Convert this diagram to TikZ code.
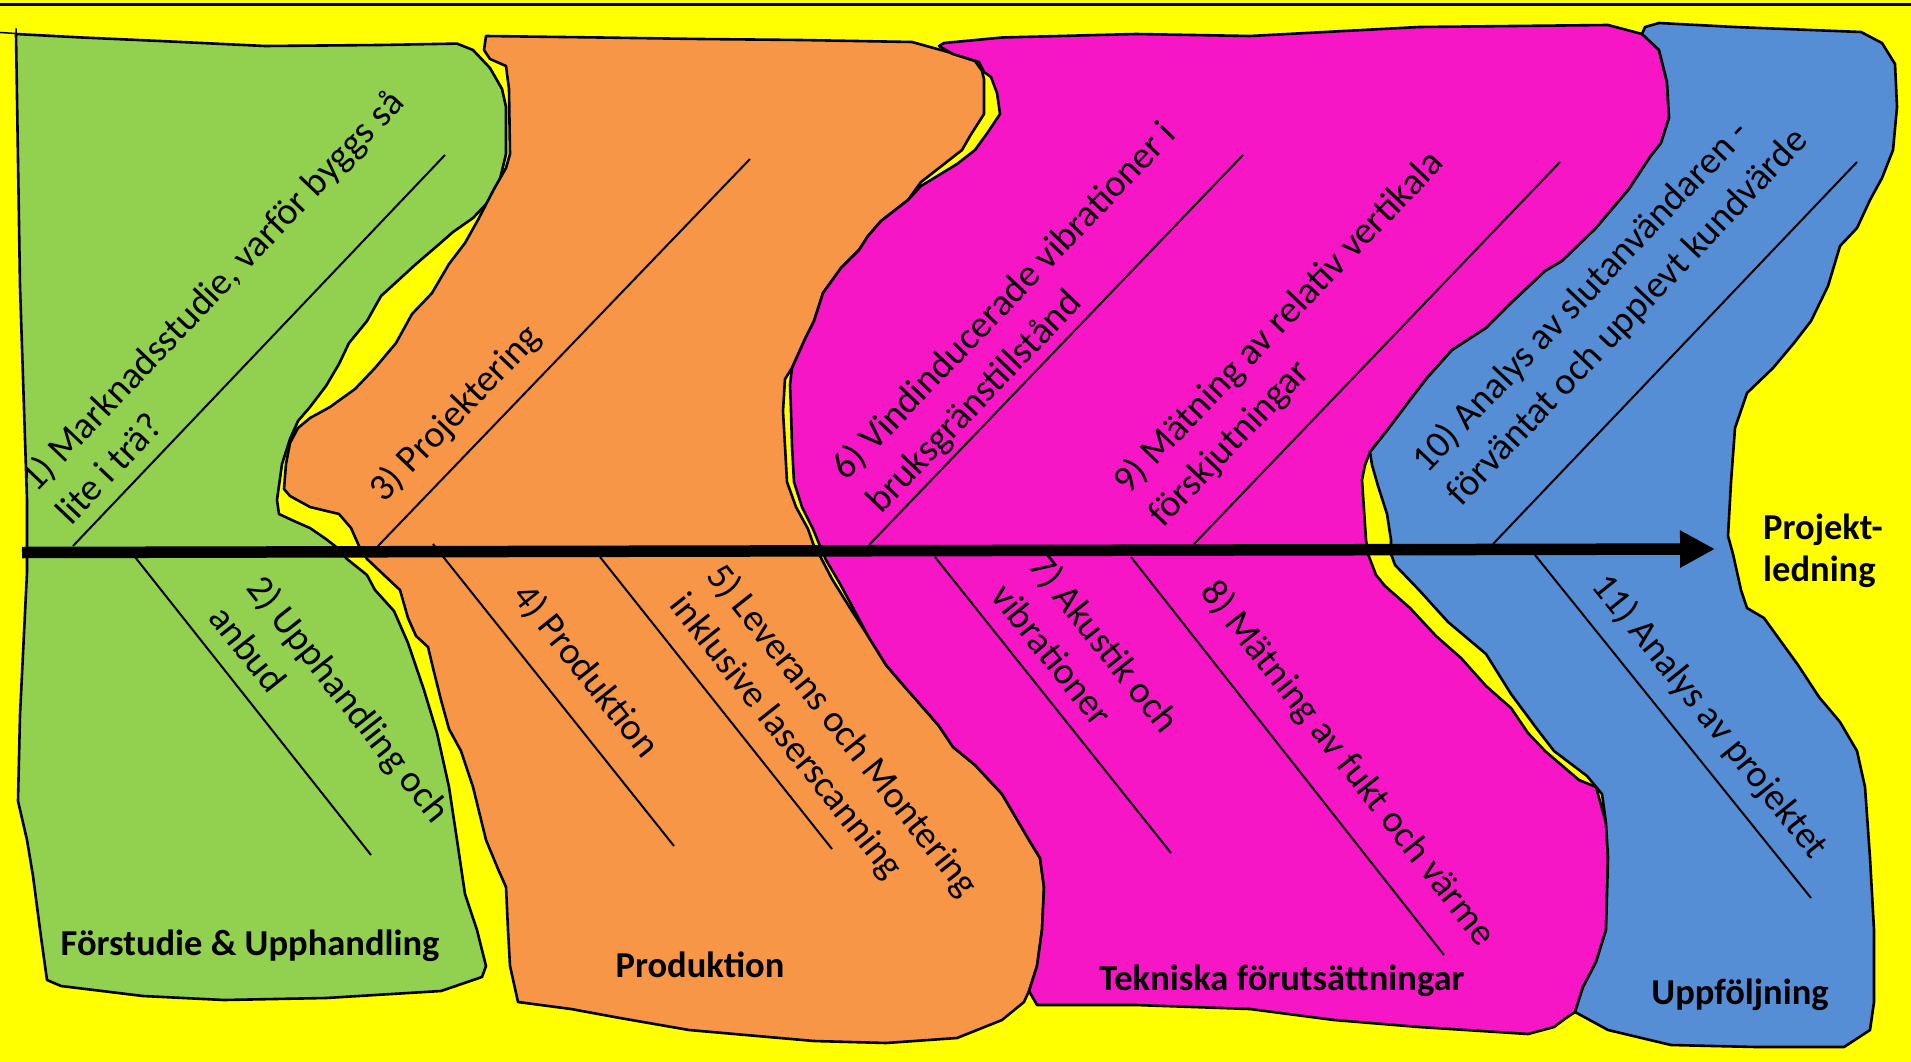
\documentclass[tikz,border=0pt]{standalone}
\usepackage{fontspec}
\setmainfont{Carlito}
\usetikzlibrary{arrows.meta}
\definecolor{bgyellow}{RGB}{255,255,0}
\definecolor{phasegreen}{RGB}{146,208,80}
\definecolor{phaseorange}{RGB}{247,150,70}
\definecolor{phasemagenta}{RGB}{247,22,197}
\definecolor{phaseblue}{RGB}{85,142,213}

\begin{document}
\begin{tikzpicture}[x=1pt, y=-1pt,
	phase/.style={draw=black, line width=2.6pt, line join=round},
	bone/.style={black, line width=2pt},
	steplabel/.style={sloped, anchor=south west, inner xsep=0pt, text depth=0pt, align=left, font=\fontsize{38}{48}\selectfont},
	phasename/.style={anchor=base, inner sep=0pt, font=\fontsize{36.5}{42}\selectfont\bfseries}]
	\useasboundingbox (0,0) rectangle (1911,1062);
	% background
	\fill[bgyellow] (0,0) rectangle (1911,1062);
	\draw[line width=3pt] (0,4.5) -- (1911,4.5);

	% phases
	\filldraw[phase, fill=phasegreen] (16,34) -- (82,37.5) -- (160,41) -- (265,46) -- (380,45) -- (457,43.6) -- (473,50) -- (490,68) -- (502,89) -- (506,107) -- (506,154) -- (500,179) -- (490,200) -- (473,218) -- (453,232) -- (437,246) -- (416,264) -- (392,286) -- (381,296) -- (367,321) -- (349,343) -- (339,364) -- (326,386) -- (310,407) -- (298,421) -- (290,439) -- (282,464) -- (277,500) -- (279,514) -- (294,521) -- (310,528) -- (326,539) -- (335,546) -- (347,559) -- (367,575) -- (375,590) -- (394,611) -- (408,643) -- (424,690) -- (437,733) -- (449,787) -- (457,840) -- (465,894) -- (477,930) -- (486,966) -- (482,977) -- (441,991) -- (326,998) -- (224,1000) -- (143,996) -- (61,986) -- (47,980) -- (41,937) -- (33,876) -- (27,840) -- (18,801) -- (20,715) -- (27,572) -- (27,500) -- (20,286) -- cycle;
	\draw[line width=1.5pt] (0,32.5) -- (16,33.5) -- (16,28.5);

	\filldraw[phase, fill=phaseorange] (486,36) -- (600,37.5) -- (700,39) -- (800,40) -- (912,42) -- (948,52) -- (975,61) -- (982,71) -- (984,79) -- (984,114) -- (970,136) -- (962,150) -- (939,168) -- (921,182) -- (908,200) -- (881,221) -- (868,236) -- (859,250) -- (841,268) -- (823,293) -- (814,321) -- (805,339) -- (792,368) -- (785,379) -- (783,411) -- (785,446) -- (787,482) -- (796,507) -- (808,529) -- (814,546) -- (819,554) -- (832,579) -- (850,608) -- (868,636) -- (886,665) -- (904,686) -- (926,711) -- (939,726) -- (953,747) -- (975,765) -- (1002,794) -- (1029,840) -- (1040,858) -- (1044,887) -- (1042,930) -- (1037,966) -- (1029,991) -- (1024,1002) -- (1002,1020) -- (957,1038) -- (886,1043) -- (814,1041) -- (689,1030) -- (620,1018) -- (571,1009) -- (518,1002) -- (510,966) -- (508,930) -- (506,887) -- (498,869) -- (486,840) -- (473,787) -- (461,751) -- (449,729) -- (441,700) -- (433,668) -- (428,647) -- (416,636) -- (408,618) -- (400,590) -- (384,575) -- (367,559) -- (359,546) -- (351,528) -- (339,514) -- (310,507) -- (290,496) -- (284,489) -- (286,464) -- (290,443) -- (298,428) -- (310,418) -- (330,407) -- (355,389) -- (375,368) -- (396,343) -- (412,314) -- (432,293) -- (449,264) -- (465,243) -- (479,218) -- (494,189) -- (506,168) -- (510,154) -- (509,89) -- (506,66) -- (490,59) -- (484,50) -- cycle;

	\filldraw[phase, fill=phasemagenta] (944,43) -- (1002,37.5) -- (1136,34) -- (1250,36) -- (1419,27) -- (1608,25) -- (1642,34) -- (1659,50) -- (1667,82) -- (1669,118) -- (1661,143) -- (1650,157) -- (1629,189) -- (1596,228) -- (1562,261) -- (1545,271) -- (1511,303) -- (1486,328) -- (1452,350) -- (1427,378) -- (1410,400) -- (1389,428) -- (1370,452) -- (1365,465) -- (1362,480) -- (1364,510) -- (1366,540) -- (1368,554) -- (1376,575) -- (1385,586) -- (1410,608) -- (1436,636) -- (1461,658) -- (1486,686) -- (1511,708) -- (1528,733) -- (1545,751) -- (1579,780) -- (1596,787) -- (1606,823) -- (1608,858) -- (1606,930) -- (1596,962) -- (1583,987) -- (1575,1012) -- (1566,1018) -- (1554,1027) -- (1528,1034) -- (1419,1027) -- (1334,1020) -- (1250,1009) -- (1136,1005) -- (1037,1005) -- (1029,991) -- (1037,966) -- (1042,930) -- (1044,887) -- (1040,858) -- (1029,840) -- (1002,794) -- (975,765) -- (953,747) -- (939,726) -- (926,711) -- (904,686) -- (886,665) -- (868,636) -- (852,606) -- (839,582) -- (826,560) -- (820,546) -- (813,529) -- (802,507) -- (794,482) -- (792,446) -- (791,411) -- (790,385) -- (792,368) -- (805,339) -- (814,321) -- (823,293) -- (841,268) -- (859,250) -- (868,236) -- (881,221) -- (908,200) -- (921,186) -- (939,175) -- (957,164) -- (975,150) -- (988,132) -- (1000,114) -- (997,93) -- (991,77) -- (984,72) -- (979,62) -- (953,54) -- (939,46) -- cycle;

	\filldraw[phase, fill=phaseblue] (1642,34) -- (1645,27) -- (1659,23) -- (1735,27) -- (1861,32) -- (1882,43) -- (1895,64) -- (1897,107) -- (1893,150) -- (1882,178) -- (1870,200) -- (1857,228) -- (1840,246) -- (1828,286) -- (1811,321) -- (1794,343) -- (1773,368) -- (1747,393) -- (1735,428) -- (1731,482) -- (1728,536) -- (1733,554) -- (1741,590) -- (1747,608) -- (1764,618) -- (1777,636) -- (1798,665) -- (1819,697) -- (1840,722) -- (1857,751) -- (1865,787) -- (1870,858) -- (1874,930) -- (1874,1002) -- (1870,1030) -- (1844,1047) -- (1756,1047) -- (1671,1045) -- (1608,1030) -- (1575,1012) -- (1583,987) -- (1596,962) -- (1606,930) -- (1608,858) -- (1606,823) -- (1602,794) -- (1587,776) -- (1554,751) -- (1537,729) -- (1511,694) -- (1486,654) -- (1448,622) -- (1419,590) -- (1395,565) -- (1391,554) -- (1391,540) -- (1387,514) -- (1378,486) -- (1372,465) -- (1370,452) -- (1389,428) -- (1410,400) -- (1427,378) -- (1452,350) -- (1486,328) -- (1511,303) -- (1545,271) -- (1562,261) -- (1596,228) -- (1629,189) -- (1650,157) -- (1661,143) -- (1669,118) -- (1667,82) -- (1659,50) -- cycle;

	% bones above the time line
	\coordinate (b1s) at (73,546);   \coordinate (b1e) at (445,155);
	\coordinate (b3s) at (378,546);  \coordinate (b3e) at (750,159);
	\coordinate (b6s) at (869,545);  \coordinate (b6e) at (1243,155);
	\coordinate (b9s) at (1194,544); \coordinate (b9e) at (1560,162);
	\coordinate (b10s) at (1493,544); \coordinate (b10e) at (1857,162);
	\draw[bone] (b1s) -- (b1e) node[steplabel, pos=0.022, inner ysep=14pt] (step1) {1) Marknadsstudie, varför byggs så\\lite i trä?};
	\draw[bone] (b3s) -- (b3e) node[steplabel, pos=0.064, inner ysep=24pt] (step3) {3) Projektering};
	\draw[bone] (b6s) -- (b6e) node[steplabel, pos=0.055, inner ysep=11pt] (step6) {6) Vindinducerade vibrationer i\\bruksgränstillstånd};
	\draw[bone] (b9s) -- (b9e) node[steplabel, pos=-0.021, inner ysep=32pt] (step9) {9) Mätning av relativ vertikala\\förskjutningar};
	\draw[bone] (b10s) -- (b10e) node[steplabel, pos=0.008, inner ysep=47pt] (step10) {10) Analys av slutanvändaren -\\förväntat och upplevt kundvärde};

	% bones below the time line
	\coordinate (b2s) at (135,557);  \coordinate (b2e) at (371,855);
	\coordinate (b4s) at (433,544);  \coordinate (b4e) at (674,846);
	\coordinate (b5s) at (600,557);  \coordinate (b5e) at (832,849);
	\coordinate (b7s) at (935,557);  \coordinate (b7e) at (1171,853);
	\coordinate (b8s) at (1131,557); \coordinate (b8e) at (1444,955);
	\coordinate (b11s) at (1535,555); \coordinate (b11e) at (1811,898);
	\draw[bone] (b2s) -- (b2e) node[steplabel, pos=0.242, inner ysep=18pt] (step2) {2) Upphandling och\\anbud};
	\draw[bone] (b4s) -- (b4e) node[steplabel, pos=0.23, inner ysep=28pt] (step4) {4) Produktion};
	\draw[bone] (b5s) -- (b5e) node[steplabel, pos=0.214, inner ysep=22pt] (step5) {5) Leverans och Montering\\inklusive laserscanning};
	\draw[bone] (b7s) -- (b7e) node[steplabel, pos=0.169, inner ysep=17pt] (step7) {7) Akustik och\\vibrationer};
	\draw[bone] (b8s) -- (b8e) node[steplabel, pos=0.136, inner ysep=31pt] (step8) {8) Mätning av fukt och värme};
	\draw[bone] (b11s) -- (b11e) node[steplabel, pos=0.132, inner ysep=23pt] (step11) {11) Analys av projektet};

	% time line
	\coordinate (axisstart) at (22,552.5);
	\coordinate (axisend) at (1715,549);
	\draw[line width=11.5pt, -{Triangle[length=35pt, width=35pt]}] (axisstart) -- (axisend);

	% phase names
	\node[phasename] (forstudie) at (250,955) {Förstudie \& Upphandling};
	\node[phasename] (produktion) at (700,977) {Produktion};
	\node[phasename] (tekniska) at (1282,990) {Tekniska förutsättningar};
	\node[phasename] (uppfoljning) at (1740,1004) {Uppföljning};
	\node[phasename, anchor=south west, text depth=0pt, align=left] (ledning) at (1763,582) {Projekt-\\ledning};
\end{tikzpicture}
\end{document}
